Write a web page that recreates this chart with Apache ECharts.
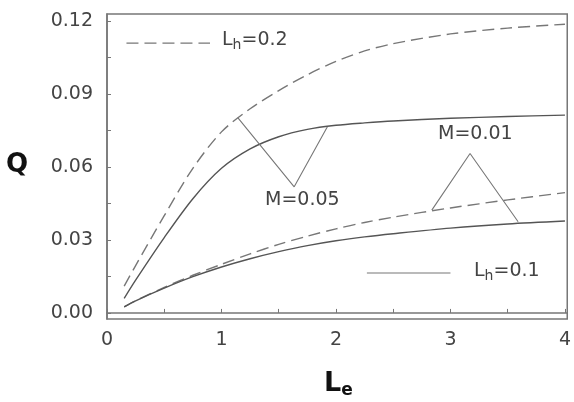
<!DOCTYPE html>
<html>
<head>
<meta charset="utf-8">
<script src="https://cdn.jsdelivr.net/npm/echarts@6/dist/echarts.min.js"></script>
<style>
  html, body { margin: 0; padding: 0; background: #fff; }
  #chart { width: 574px; height: 402px; }
</style>
</head>
<body>
<div id="chart"></div>
<script>
// Le values
const le = [0.15, 0.25, 0.5, 0.75, 1, 1.25, 1.5, 1.75, 2, 2.25, 2.5, 3, 3.5, 4];
// M=0.05
const qLh02M005 = [0.011, 0.0195, 0.040, 0.0595, 0.0745, 0.084, 0.0915, 0.098, 0.1035, 0.1078, 0.1108, 0.1148, 0.1172, 0.1188];
const qLh01M005 = [0.006, 0.0135, 0.031, 0.047, 0.0595, 0.0675, 0.0725, 0.0755, 0.0772, 0.0782, 0.079, 0.0801, 0.0808, 0.0814];
// M=0.01
const qLh02M001 = [0.0025, 0.005, 0.0105, 0.0155, 0.020, 0.0243, 0.0282, 0.0316, 0.0346, 0.0372, 0.0394, 0.0432, 0.0465, 0.0495];
const qLh01M001 = [0.0025, 0.005, 0.0102, 0.0149, 0.0189, 0.0223, 0.0252, 0.0277, 0.0297, 0.0313, 0.0326, 0.0349, 0.0366, 0.0378];

const xTicks = [0, 0.5, 1, 1.5, 2, 2.5, 3, 3.5, 4];
const xLabels = [0, 1, 2, 3, 4];
const yTicks = [0, 0.015, 0.03, 0.045, 0.06, 0.075, 0.09, 0.105, 0.12];
const yLabels = [0, 0.03, 0.06, 0.09, 0.12];

// annotation pointers (data units)
const ptrM005 = [[1.142, 0.0804], [1.635, 0.0519], [1.925, 0.0766]];
const ptrM001 = [[2.837, 0.0423], [3.171, 0.0656], [3.591, 0.0375]];
const legendDash = [[0.17, 0.111], [0.9, 0.111]];
const legendSolid = [[2.27, 0.0164], [3.0, 0.0164]];

const zip = (xs, ys) => xs.map((x, i) => [x, ys[i]]);

const font = 'DejaVu Sans';
const solid = { color: '#555', width: 1.4, type: 'solid' };
const dashed = { color: '#777', width: 1.4, type: [12, 6] };
const thin = { color: '#777', width: 1.1, type: 'solid' };

function lineSeries(data, style, smooth) {
  return {
    type: 'line', data: data, smooth: smooth ? 0.3 : false,
    showSymbol: false, symbol: 'none', lineStyle: style, silent: true, z: 3
  };
}

const chart = echarts.init(document.getElementById('chart'));
const option = {
  animation: false,
  grid: { left: 107, right: 5, top: 14, bottom: 83, show: true, borderColor: '#777', borderWidth: 1.5 },
  xAxis: {
    type: 'value', min: 0, max: 4.02,
    axisLine: { show: true, lineStyle: { color: '#777', width: 1.5 } },
    axisTick: { show: true, inside: true, length: 4, customValues: xTicks, lineStyle: { color: '#777' } },
    axisLabel: { customValues: xLabels, color: '#444', fontFamily: font, fontSize: 19, margin: 12,
      formatter: v => String(v) },
    splitLine: { show: false }
  },
  yAxis: {
    type: 'value', min: -0.0025, max: 0.123,
    axisLine: { show: true, lineStyle: { color: '#777', width: 1.5 } },
    axisTick: { show: true, inside: true, length: 4, customValues: yTicks, lineStyle: { color: '#777' } },
    axisLabel: { customValues: yLabels, color: '#444', fontFamily: font, fontSize: 19, margin: 14,
      formatter: v => v.toFixed(2) },
    splitLine: { show: false }
  },
  series: [
    lineSeries(zip(le, qLh02M005), dashed, true),
    lineSeries(zip(le, qLh01M005), solid, true),
    lineSeries(zip(le, qLh02M001), dashed, true),
    lineSeries(zip(le, qLh01M001), solid, true),
    lineSeries(ptrM005, thin, false),
    lineSeries(ptrM001, thin, false),
    lineSeries(legendDash, dashed, false),
    lineSeries(legendSolid, thin, false)
  ],
  graphic: [
    { type: 'text', left: 6, top: 152, style: { text: 'Q', font: 'bold 26px "' + font + '"', fill: '#111' } },
    { type: 'text', left: 324, top: 370, style: {
      text: '{a|L}{b|e}', rich: {
        a: { fontFamily: font, fontWeight: 'bold', fontSize: 27, fill: '#111' },
        b: { fontFamily: font, fontWeight: 'bold', fontSize: 17, fill: '#111', padding: [14, 0, 0, 0] }
      } } },
    { type: 'text', left: 222, top: 31, style: {
      text: '{a|L}{b|h}{a|=0.2}', rich: {
        a: { fontFamily: font, fontSize: 19, fill: '#444' },
        b: { fontFamily: font, fontSize: 14, fill: '#444', padding: [10, 0, 0, 0] }
      } } },
    { type: 'text', left: 474, top: 262, style: {
      text: '{a|L}{b|h}{a|=0.1}', rich: {
        a: { fontFamily: font, fontSize: 19, fill: '#444' },
        b: { fontFamily: font, fontSize: 14, fill: '#444', padding: [10, 0, 0, 0] }
      } } },
    { type: 'text', left: 265, top: 191, style: { text: 'M=0.05', font: '19px "' + font + '"', fill: '#444' } },
    { type: 'text', left: 438, top: 125, style: { text: 'M=0.01', font: '19px "' + font + '"', fill: '#444' } }
  ]
};
chart.setOption(option);
window.addEventListener('resize', function () { chart.resize(); });
</script>
</body>
</html>
